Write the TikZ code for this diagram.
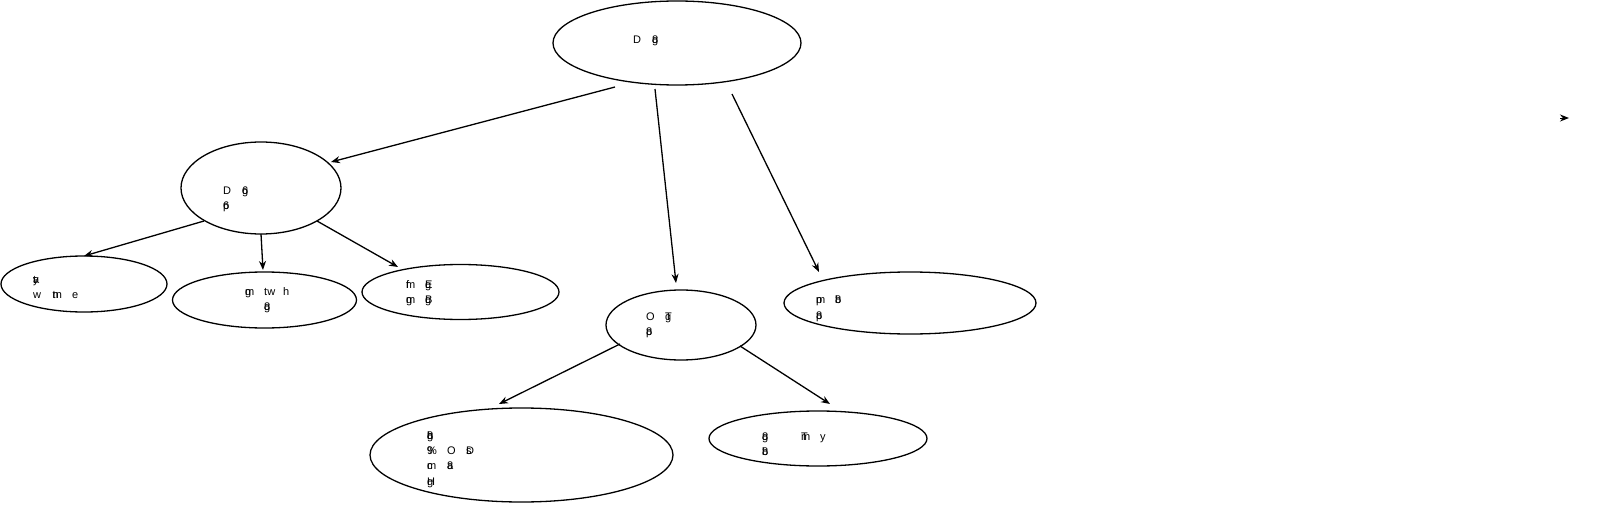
\documentclass[tikz,border=0pt]{standalone}
\usepackage{fontspec}
\setmainfont{Liberation Sans}
\usetikzlibrary{arrows.meta}
\newcommand{\ovl}[2]{\rlap{#1}#2}
\begin{document}
\begin{tikzpicture}[x=1pt,y=-1pt,
  con/.style={draw,line width=1.3pt,-{Stealth[length=9pt,width=7pt]}},
  lbl/.style={anchor=base west,inner sep=0pt,font=\fontsize{11}{13}\selectfont}]
\useasboundingbox (0,0) rectangle (1615,519);
% ellipses
\draw[line width=1.3pt] (677,43) ellipse [x radius=124,y radius=42];
\node[coordinate] (top) at (677,43) {};
\draw[line width=1.3pt] (261,188) ellipse [x radius=80,y radius=46];
\node[coordinate] (lm) at (261,188) {};
\draw[line width=1.3pt] (84,284) ellipse [x radius=83,y radius=28];
\node[coordinate] (fl) at (84,284) {};
\draw[line width=1.3pt] (264.5,300) ellipse [x radius=92,y radius=28];
\node[coordinate] (n4) at (264.5,300) {};
\draw[line width=1.3pt] (460.5,292) ellipse [x radius=98.5,y radius=27.5];
\node[coordinate] (n5) at (460.5,292) {};
\draw[line width=1.3pt] (681,325) ellipse [x radius=75,y radius=35];
\node[coordinate] (n6) at (681,325) {};
\draw[line width=1.3pt] (910,303) ellipse [x radius=126,y radius=31];
\node[coordinate] (n7) at (910,303) {};
\draw[line width=1.3pt] (521.5,455) ellipse [x radius=151.5,y radius=47];
\node[coordinate] (n8) at (521.5,455) {};
\draw[line width=1.3pt] (818,438.5) ellipse [x radius=109,y radius=27.5];
\node[coordinate] (n9) at (818,438.5) {};
% connector end points
\coordinate (a1) at (615,87);   \coordinate (b1) at (331,162);
\coordinate (a2) at (655,89);   \coordinate (b2) at (676,283);
\coordinate (a3) at (732,94);   \coordinate (b3) at (819,272);
\coordinate (a4) at (204,221);  \coordinate (b4) at (84,256);
\coordinate (a5) at (261,234);  \coordinate (b5) at (263,270);
\coordinate (a6) at (317,221);  \coordinate (b6) at (398,267);
\coordinate (a7) at (620,344);  \coordinate (b7) at (499,404);
\coordinate (a8) at (740,346);  \coordinate (b8) at (830,404);
\draw[con] (a1) -- (b1);
\draw[con] (a2) -- (b2);
\draw[con] (a3) -- (b3);
\draw[con] (a4) -- (b4);
\draw[con] (a5) -- (b5);
\draw[con] (a6) -- (b6);
\draw[con] (a7) -- (b7);
\draw[con] (a8) -- (b8);
% stray arrowhead at right edge
\coordinate (s1) at (1560,118); \coordinate (s2) at (1569,118);
\draw[con,line width=1pt] (s1) -- (s2);
% labels
\node[lbl] (t1) at (633,44) {D};
\node[lbl] (t2) at (652,44) {\ovl{g}{8}};
\node[lbl] (l1) at (223,194) {D};
\node[lbl] (l2) at (242,194) {\ovl{g}{6}};
\node[lbl] (l3) at (223,209) {\ovl{p}{6}};
\node[lbl] (f1) at (33,283) {\ovl{t}{\ovl{y}{a}}};
\node[lbl] (f2) at (33,298) {w};
\node[lbl] (f3) at (52,298) {\ovl{tn}{\ovl{n}{}}};
\node[lbl] (f4) at (72,298) {e};
\node[lbl] (g1) at (245,295) {\ovl{g}{m}};
\node[lbl] (g2) at (264,295) {tw};
\node[lbl] (g3) at (283,295) {h};
\node[lbl] (g4) at (264,310) {\ovl{g}{8}};
\node[lbl] (h1) at (406,288) {\ovl{f}{m}};
\node[lbl] (h2) at (425,288) {\ovl{g}{E}};
\node[lbl] (h3) at (406,303) {\ovl{g}{m}};
\node[lbl] (h4) at (425,303) {\ovl{g}{B}};
\node[lbl] (o1) at (646,320) {O};
\node[lbl] (o2) at (665,320) {\ovl{g}{T}};
\node[lbl] (o3) at (646,335) {\ovl{p}{8}};
\node[lbl] (p1) at (816,303) {\ovl{p}{m}};
\node[lbl] (p2) at (835,303) {\ovl{b}{8}};
\node[lbl] (p3) at (816,319) {\ovl{p}{8}};
\node[lbl] (q1) at (427,439) {\ovl{g}{\ovl{8}{h}}};
\node[lbl] (q2) at (427,454) {\ovl{9}{\%}};
\node[lbl] (q3) at (447,454) {O};
\node[lbl] (q4) at (466,454) {\ovl{s}{D}};
\node[lbl] (q5) at (427,469) {\ovl{c}{m}};
\node[lbl] (q6) at (447,469) {\ovl{a}{8}};
\node[lbl] (q7) at (427,485) {\ovl{g}{H}};
\node[lbl] (r1) at (762,440) {\ovl{g}{8}};
\node[lbl] (r2) at (801,440) {\ovl{T}{m}};
\node[lbl] (r3) at (820,440) {y};
\node[lbl] (r4) at (762,455) {\ovl{b}{8}};
\end{tikzpicture}
\end{document}
